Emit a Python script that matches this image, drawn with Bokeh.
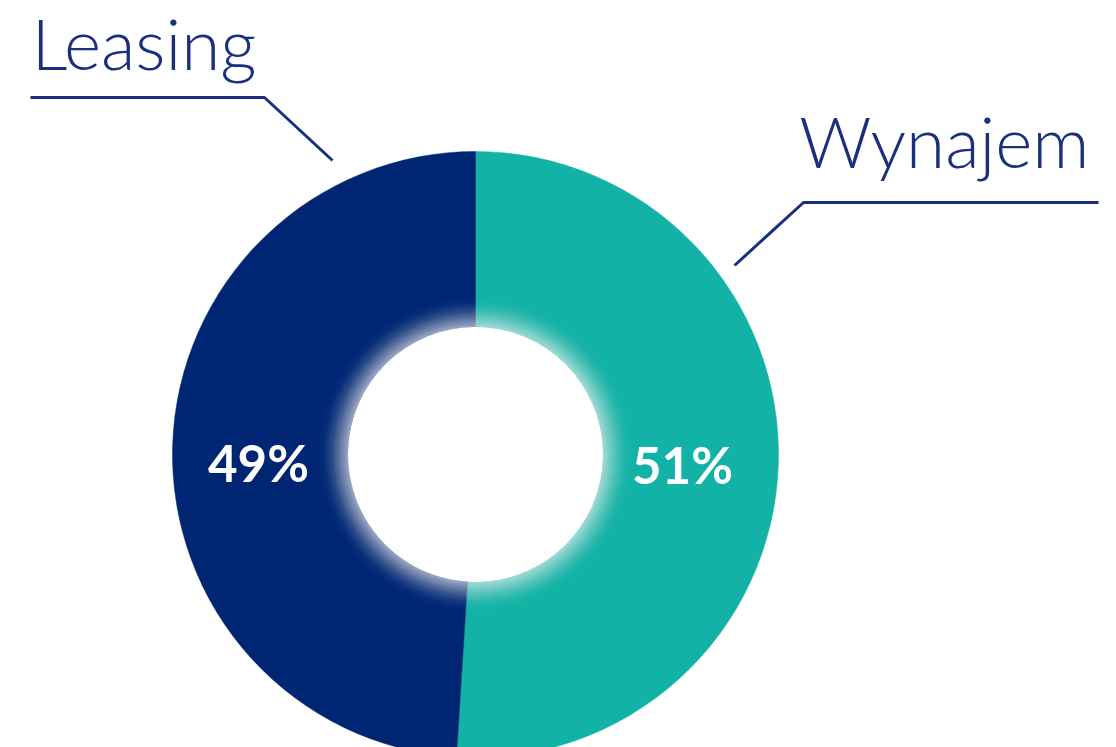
import math
from bokeh.plotting import figure
from bokeh.models import Range1d
from bokeh.core.properties import value
from bokeh.embed import file_html
from bokeh.resources import INLINE

# ---- data ----
categories = ["Wynajem", "Leasing"]
shares = [51, 49]
pct_labels = ["51%", "49%"]
colors = ["#12b3a6", "#002673"]

W, H = 1116, 747
TEXT_NAVY = "#1a2f7d"

def fy(py):
    return H - py

p = figure(width=W, height=H, x_range=Range1d(0, W), y_range=Range1d(0, H),
           output_backend="svg", toolbar_location=None, min_border=0)
p.axis.visible = False
p.grid.visible = False
p.outline_line_color = None
p.background_fill_color = "white"
p.border_fill_color = "white"

cx, cy = 475, fy(454)
r_out, r_in = 303, 127.5

# wedges: start at top, go clockwise
start = 90.0
for cat, s, col in zip(categories, shares, colors):
    end = start - s / sum(shares) * 360.0
    p.annular_wedge(x=cx, y=cy, inner_radius=r_in, outer_radius=r_out,
                    start_angle=math.radians(start), end_angle=math.radians(end),
                    direction="clock", fill_color=col, line_color=col, line_width=0.5)
    start = end

# white glow around hole
n = 36
glow_w = 40.0
for i in range(n):
    t0 = i / n
    a = (1 - t0) ** 2.0 * 0.08
    p.annulus(x=cx, y=cy, inner_radius=r_in, outer_radius=r_in + glow_w * (i + 1) / n,
              fill_color="white", fill_alpha=a, line_color=None)
p.circle(x=cx, y=cy, radius=r_in, fill_color="white", line_color=None)

# percentage labels
p.text(x=[682, 258], y=[fy(464), fy(462)], text=pct_labels,
       text_font=value("Lato"), text_font_style="bold", text_font_size="51px",
       text_color="white", text_align="center", text_baseline="middle")

# category labels
p.text(x=[1089, 31], y=[fy(140), fy(42)], text=categories,
       text_font=value("Lato Light"), text_font_size="71px",
       text_color=TEXT_NAVY, text_align=["right", "left"], text_baseline="alphabetic")

# leader lines
p.line(x=[30, 264, 332], y=[fy(97), fy(97), fy(160)], line_color=TEXT_NAVY, line_width=3)
p.line(x=[1098, 803, 734], y=[fy(202), fy(202), fy(265)], line_color=TEXT_NAVY, line_width=3)

open("out.html", "w").write(file_html(p, INLINE))
